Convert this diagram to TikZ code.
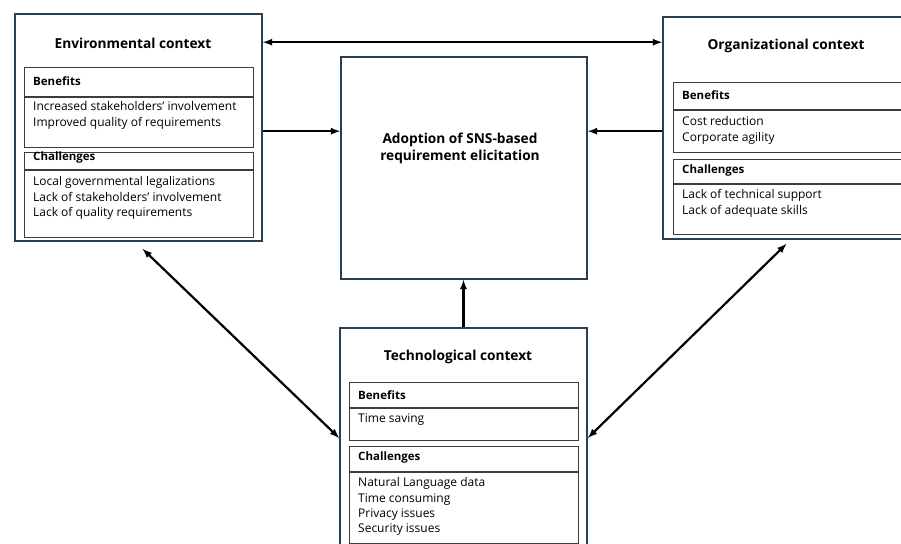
\documentclass[tikz,border=0pt]{standalone}
\usepackage{fontspec}
\setmainfont{Open Sans}
\usetikzlibrary{arrows,positioning,calc}

\definecolor{ctxline}{RGB}{38,64,84}
\definecolor{cellline}{RGB}{60,60,60}

\begin{document}
\begin{tikzpicture}[x=1pt,y=-1pt,>=latex,
    ctx/.style={draw=ctxline,line width=1.6pt,fill=white,inner sep=0,minimum width=247pt},
    cell/.style={draw=cellline,line width=1.2pt,inner sep=0,minimum width=229pt,anchor=north west},
    ttl/.style={font=\fontsize{13.7}{17}\selectfont\bfseries,align=center},
    hd/.style={font=\fontsize{11.5}{14}\selectfont\bfseries,anchor=west,inner sep=0},
    bd/.style={font=\fontsize{12}{15.3}\selectfont,anchor=north west,align=left,inner sep=0},
    conn/.style={line width=2.2pt}]
  \useasboundingbox (0,0) rectangle (901,543);
  \clip (0,0) rectangle (901,543);

  % the four context boxes
  \node[ctx,minimum height=227pt] (env) at (138.5,127.5) {};
  \node[ctx,minimum height=222pt] (org) at (786.5,128) {};
  \node[ctx,minimum width=246pt,minimum height=222pt] (adopt) at (464,168) {};
  \node[ctx,minimum height=220pt] (tech) at (463.5,438) {};

  \node[ttl] (envttl) at (133,43) {Environmental context};
  \node[ttl] (orgttl) at (786,46) {Organizational context};
  \node[ttl] (techttl) at (458,357) {Technological context};
  \node[ttl] (adoptttl) at (460,148.5) {Adoption of SNS-based\\requirement elicitation};

  % environmental
  \node[cell,minimum height=29pt] (envbh) at (24,67) {};
  \node[cell,minimum height=50pt] (envbb) at (envbh.south west) {};
  \node[cell,minimum height=17pt] (envch) at (24,152) {};
  \node[cell,minimum height=67pt] (envcb) at (envch.south west) {};
  \node[hd] (envbt) at (33,81) {Benefits};
  \node[bd] (envbl) at (33,101.5) {Increased stakeholders’ involvement\\Improved quality of requirements};
  \node[hd] (envct) at (33,158) {Challenges};
  \node[bd] (envcl) at (33,176.5) {Local governmental legalizations\\Lack of stakeholders’ involvement\\Lack of quality requirements};

  % organizational
  \node[cell,minimum width=228pt,minimum height=27pt] (orgbh) at (673,82) {};
  \node[cell,minimum width=228pt,minimum height=42pt] (orgbb) at (orgbh.south west) {};
  \node[cell,minimum width=228pt,minimum height=24pt] (orgch) at (673,159) {};
  \node[cell,minimum width=228pt,minimum height=50pt] (orgcb) at (orgch.south west) {};
  \node[hd] (orgbt) at (682,95) {Benefits};
  \node[bd] (orgbl) at (682,116.5) {Cost reduction\\Corporate agility};
  \node[hd] (orgct) at (682,171) {Challenges};
  \node[bd] (orgcl) at (682,189.5) {Lack of technical support\\Lack of adequate skills};

  % technological
  \node[cell,minimum height=25pt] (techbh) at (349,382) {};
  \node[cell,minimum height=32pt] (techbb) at (techbh.south west) {};
  \node[cell,minimum height=25pt] (techch) at (349,446) {};
  \node[cell,minimum height=71pt] (techcb) at (techch.south west) {};
  \node[hd] (techbt) at (358,395) {Benefits};
  \node[bd] (techbl) at (358,413.5) {Time saving};
  \node[hd] (techct) at (358,458) {Challenges};
  \node[bd] (techcl) at (358,477.5) {Natural Language data\\Time consuming\\Privacy issues\\Security issues};

  % connectors
  \coordinate (envtop) at ($(env.north east)+(0,29)$);
  \coordinate (envmid) at ($(env.north east)+(0,118)$);
  \coordinate (orgmid) at ($(org.north west)+(0,115)$);
  \draw[conn,<->] (envtop) -- (envtop -| org.west);
  \draw[conn,->] (envmid) -- (envmid -| adopt.west);
  \draw[conn,->] (orgmid) -- (orgmid -| adopt.east);
  \draw[conn,->] (tech.north) -- (tech.north |- adopt.south);
  \draw[conn,<->] ($(env.south)+(4,7)$) -- (tech.west);
  \draw[conn,<->] ($(org.south)+(0,4)$) -- (tech.east);
\end{tikzpicture}
\end{document}
